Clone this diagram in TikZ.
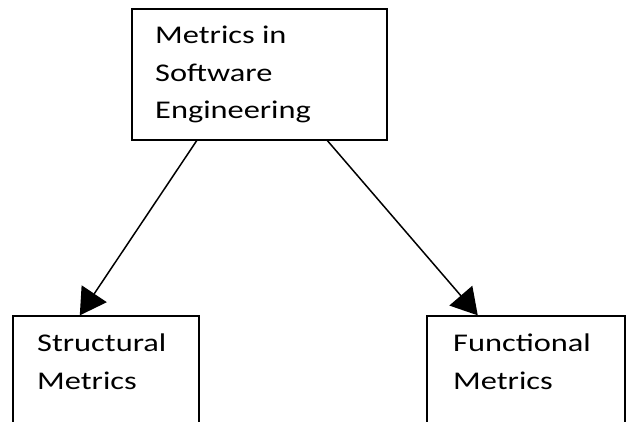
\documentclass[tikz,border=0pt]{standalone}
\usepackage{fontspec}
\newfontfamily\widefont[FakeStretch=1.27]{Carlito}
\usetikzlibrary{arrows.meta,calc}
\begin{document}
\begin{tikzpicture}[x=1pt,y=1pt,
  boxnode/.style={draw, line width=1.3pt, inner sep=0pt},
  labeltext/.style={anchor=north west, align=left, inner sep=0pt,
    font=\widefont\fontsize{25.5}{37.5}\selectfont},
  conn/.style={line width=1.5pt, -{Triangle[length=26pt,width=30pt]}}]
\useasboundingbox (0,0) rectangle (631,421);
\clip (0,0) rectangle (631,421);
\node[boxnode, minimum width=255pt, minimum height=131pt] (top) at (259.5,346.5) {};
\node[boxnode, minimum width=186pt, minimum height=150pt] (left) at (106,30) {};
\node[boxnode, minimum width=198pt, minimum height=150pt] (right) at (526,30) {};
\node[labeltext] (toptext) at (155,395) {Metrics in\\Software\\Engineering};
\node[labeltext] (lefttext) at (37,87) {Structural\\Metrics};
\node[labeltext] (righttext) at (453,87) {Functional\\Metrics};
\coordinate (s1) at ($(top.south west)!0.255!(top.south east)$);
\coordinate (s2) at ($(top.south west)!0.765!(top.south east)$);
\coordinate (e1) at ($(left.north west)!0.36!(left.north east)$);
\coordinate (e2) at ($(right.north west)!0.258!(right.north east)$);
\draw[conn] (s1) -- (e1);
\draw[conn] (s2) -- (e2);
\end{tikzpicture}
\end{document}
